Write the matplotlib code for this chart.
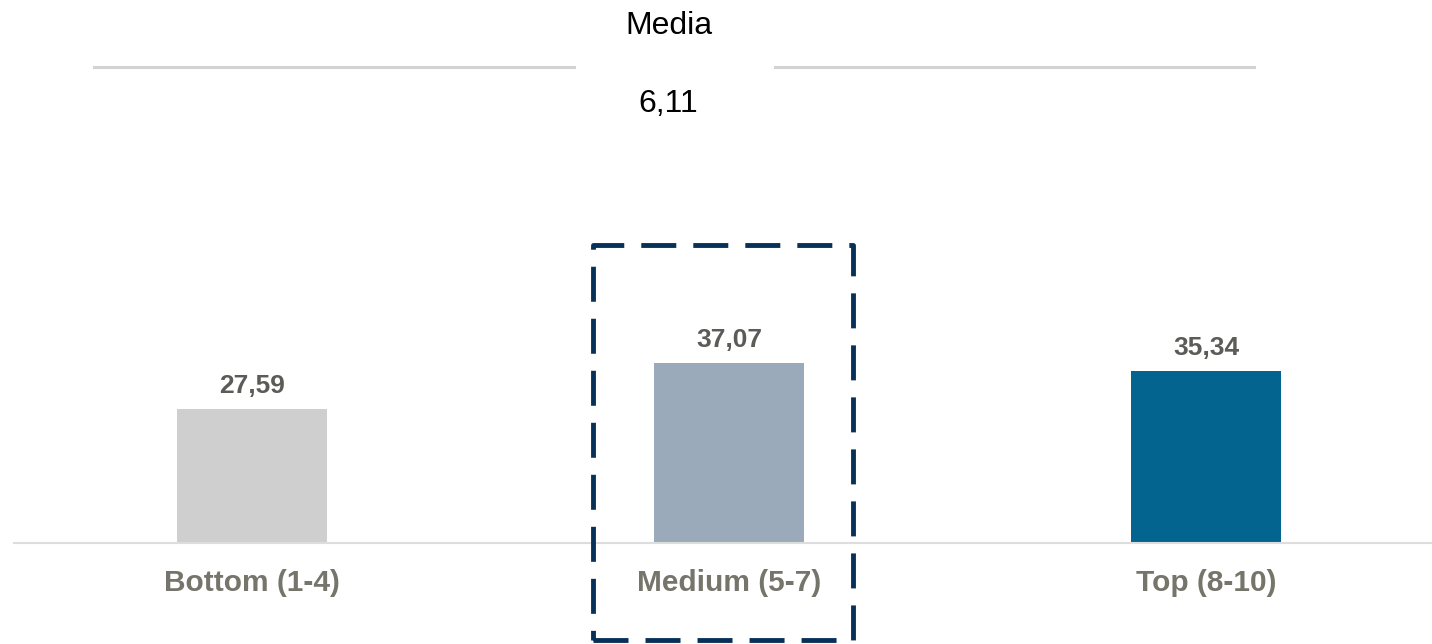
import matplotlib
matplotlib.use("Agg")
import matplotlib.pyplot as plt
from matplotlib.lines import Line2D
from matplotlib.patches import Rectangle

plt.rcParams['font.family'] = ['Liberation Sans', 'DejaVu Sans']

categories = ["Bottom (1-4)", "Medium (5-7)", "Top (8-10)"]
values = [27.59, 37.07, 35.34]
value_labels = ["27,59", "37,07", "35,34"]
bar_colors = ["#d0cfd0", "#9baabb", "#03658f"]
header_title = "Media"
header_value = "6,11"

W, H = 1432, 644
fig = plt.figure(figsize=(W / 100, H / 100), dpi=100)

ax_left = 14 / W
ax_bottom = 1 - 543 / H
ax = fig.add_axes([ax_left, ax_bottom, 1 - ax_left, 1 - ax_bottom])
x = list(range(len(categories)))
ax.bar(x, values, width=150 / 477, color=bar_colors, zorder=2)
ax.set_xlim(-238 / 477, 2 + 226 / 477)
ax.set_ylim(0, 543 / 4.857)
for s in ["top", "right", "left"]:
    ax.spines[s].set_visible(False)
ax.spines["bottom"].set_color("#dddddd")
ax.spines["bottom"].set_linewidth(1.5)
ax.set_yticks([])
ax.set_xticks(x)
ax.set_xticklabels(categories, fontsize=21.5, fontweight="bold", color="#75756c")
ax.tick_params(axis="x", length=0, pad=19)

for xi, v, lab in zip(x, values, value_labels):
    ax.annotate(lab, (xi, v), xytext=(0, 8), textcoords="offset points",
                ha="center", va="bottom", fontsize=19, fontweight="bold",
                color="#5b5b57", clip_on=False)

# highlight dashed box around medium category (figure pixel coords)
box = Rectangle((593 / W, 1 - 640 / H), (853 - 593) / W, (640 - 245) / H,
                transform=fig.transFigure, fill=False, edgecolor="#08315a",
                linewidth=3.5, linestyle=(0, (7.2, 3.5)), capstyle="butt",
                joinstyle="round", zorder=5)
fig.patches.append(box)

# header
fig.text(669 / W, 1 - 26 / H, header_title, ha="center", va="center",
         fontsize=23, color="black")
fig.text(668 / W, 1 - 104 / H, header_value, ha="center", va="center",
         fontsize=23, color="black")
for x0, x1 in [(94, 574), (775, 1254)]:
    fig.add_artist(Line2D([x0 / W, x1 / W], [1 - 67 / H, 1 - 67 / H],
                          transform=fig.transFigure, color="#d3d3d3", linewidth=2.2))

fig.savefig("out.png", dpi=100)
